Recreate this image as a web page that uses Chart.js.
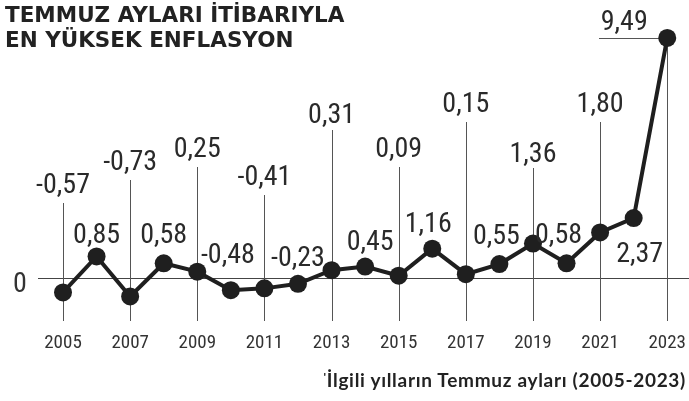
<!DOCTYPE html>
<html>
<head>
<meta charset="utf-8">
<script src="https://cdn.jsdelivr.net/npm/chart.js@4"></script>
<style>
  body { margin: 0; background: #fff; }
  #wrap { position: relative; width: 689px; height: 401px; }
  #wrap canvas { position: absolute; left: 0; top: 0; }
  #title { position: absolute; left: 5px; top: 2px; font: 700 21.5px/25px "DejaVu Sans", sans-serif; color: #222; }
  #note { position: absolute; right: 3px; top: 368px; font: 700 19px Lato, sans-serif; color: #222; letter-spacing: 0.7px; }
  #note sup { font-size: 12px; vertical-align: 6px; }
</style>
</head>
<body>
<div id="wrap">
  <canvas id="myChart" width="689" height="401"></canvas>
  <div id="title">TEMMUZ AYLARI İTİBARIYLA<br>EN YÜKSEK ENFLASYON</div>
  <div id="note"><sup>'</sup>İlgili yılların Temmuz ayları (2005-2023)</div>
</div>
<script>
// data
var years = ['2005', '2006', '2007', '2008', '2009', '2010', '2011', '2012', '2013', '2014',
             '2015', '2016', '2017', '2018', '2019', '2020', '2021', '2022', '2023'];
var inflation = [-0.57, 0.85, -0.73, 0.58, 0.25, -0.48, -0.41, -0.23, 0.31, 0.45,
                 0.09, 1.16, 0.15, 0.55, 1.36, 0.58, 1.80, 2.37, 9.49];
var zeroTick = ['0'];

// label placement: lead = top of the leader line (px), otherwise offset from the point
var labelPlace = [
    { lead: 203 }, { dx: 0, dy: -13 }, { lead: 180 }, { dx: 0, dy: -20 },
    { lead: 167 }, { dx: -3, dy: -27 }, { lead: 195 }, { dx: 0, dy: -18 },
    { lead: 130, gap: 7 }, { dx: 5, dy: -17 }, { lead: 167 }, { dx: -4, dy: -17 },
    { lead: 122 }, { dx: -3, dy: -20 }, { lead: 168, gap: 6 }, { dx: -8, dy: -20 },
    { lead: 122 }, { dx: 6, dy: 44 }, { flag: 599, dx: -43, dy: -8 }
];

var labelFont = '28px "Liberation Sans Narrow", "Roboto Condensed", sans-serif';
var ink = '#1f1f1f';

function fmt(v) {
    return v.toFixed(2).replace('.', ',');
}

var annotate = {
    id: 'annotate',
    beforeDatasetsDraw: function (chart) {
        var ctx = chart.ctx, xs = chart.scales.x, ys = chart.scales.y;
        var y0 = ys.getPixelForValue(0);
        var bottom = chart.chartArea.bottom;
        ctx.save();
        // zero line
        ctx.strokeStyle = '#444';
        ctx.lineWidth = 1;
        ctx.beginPath();
        ctx.moveTo(38, Math.round(y0) + 0.5);
        ctx.lineTo(689, Math.round(y0) + 0.5);
        ctx.stroke();
        ctx.fillStyle = '#333';
        ctx.font = labelFont;
        ctx.textAlign = 'center';
        ctx.textBaseline = 'alphabetic';
        ctx.fillText(zeroTick[0], 20, y0 + 14);
        // leader lines
        ctx.strokeStyle = '#555';
        labelPlace.forEach(function (p, i) {
            var x = Math.round(xs.getPixelForValue(i)) + 0.5;
            if (p.lead) {
                ctx.beginPath();
                ctx.moveTo(x, p.lead);
                ctx.lineTo(x, bottom);
                ctx.stroke();
            } else if (p.flag) {
                var y = ys.getPixelForValue(inflation[i]);
                ctx.beginPath();
                ctx.moveTo(x, y);
                ctx.lineTo(x, bottom);
                ctx.moveTo(p.flag, Math.round(y) + 0.5);
                ctx.lineTo(x, Math.round(y) + 0.5);
                ctx.stroke();
            }
        });
        ctx.restore();
    },
    afterDatasetsDraw: function (chart) {
        var ctx = chart.ctx, xs = chart.scales.x, ys = chart.scales.y;
        ctx.save();
        ctx.fillStyle = '#2a2a2a';
        ctx.font = labelFont;
        ctx.textAlign = 'center';
        ctx.textBaseline = 'alphabetic';
        labelPlace.forEach(function (p, i) {
            var x = xs.getPixelForValue(i);
            var txt = fmt(inflation[i]);
            if (p.lead) {
                ctx.fillText(txt, x, p.lead - (p.gap || 10));
            } else {
                var y = ys.getPixelForValue(inflation[i]);
                ctx.fillText(txt, x + p.dx, y + p.dy);
            }
        });
        ctx.restore();
    }
};

var ctx = document.getElementById('myChart').getContext('2d');
var myChart = new Chart(ctx, {
    type: 'line',
    data: {
        labels: years,
        datasets: [{
            data: inflation,
            borderColor: ink,
            borderWidth: 4,
            pointRadius: 9,
            pointBackgroundColor: ink,
            pointBorderColor: ink,
            pointBorderWidth: 0,
            tension: 0,
            clip: false
        }]
    },
    options: {
        responsive: false,
        animation: false,
        layout: { padding: { left: 63, right: 16, top: 25, bottom: 0 } },
        plugins: {
            legend: { display: false },
            tooltip: { enabled: false }
        },
        scales: {
            x: {
                offset: false,
                grid: { display: false },
                border: { display: false },
                afterFit: function (scale) { scale.height = 80; },
                ticks: {
                    autoSkip: false,
                    maxRotation: 0,
                    padding: 3,
                    color: '#333',
                    font: { family: '"Liberation Sans Narrow", "Roboto Condensed", sans-serif', size: 19 },
                    callback: function (val, i) {
                        return i % 2 === 0 ? years[i] : '';
                    }
                }
            },
            y: {
                display: false,
                min: -1.7,
                max: 10
            }
        }
    },
    plugins: [annotate]
});
</script>
</body>
</html>
